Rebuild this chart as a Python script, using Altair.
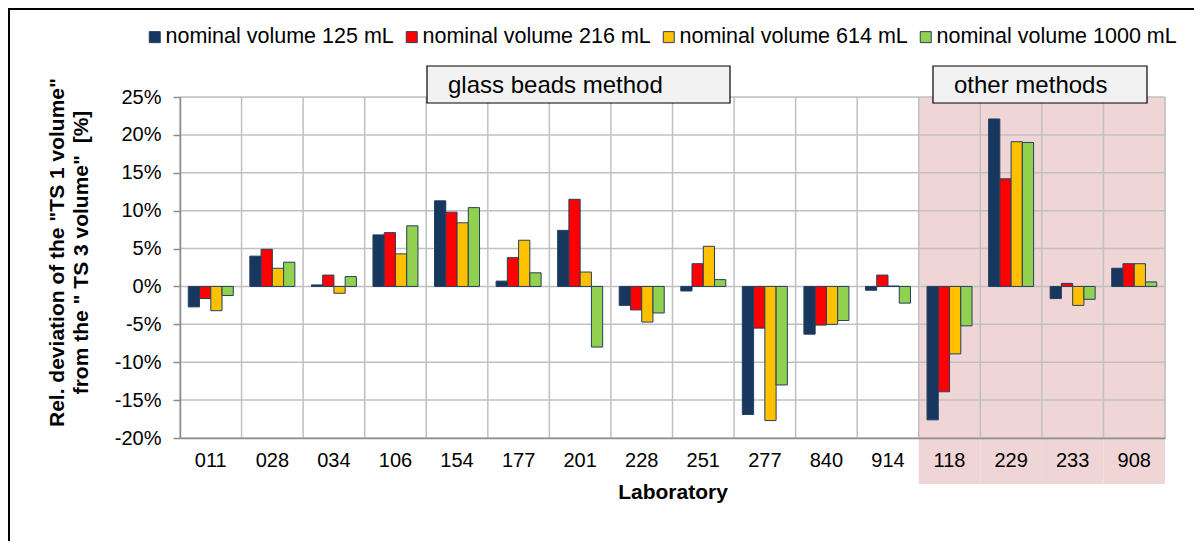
import altair as alt
import pandas as pd

labs = ["011", "028", "034", "106", "154", "177", "201", "228", "251", "277",
        "840", "914", "118", "229", "233", "908"]
other_labs = ["118", "229", "233", "908"]
series = ["nominal volume 125 mL", "nominal volume 216 mL",
          "nominal volume 614 mL", "nominal volume 1000 mL"]
v125 = [-2.7, 4.0, 0.2, 6.8, 11.3, 0.7, 7.4, -2.5, -0.6, -16.9, -6.3, -0.5, -17.6, 22.1, -1.6, 2.4]
v216 = [-1.6, 4.9, 1.5, 7.1, 9.8, 3.8, 11.5, -3.1, 3.0, -5.5, -5.1, 1.5, -13.9, 14.2, 0.4, 3.0]
v614 = [-3.2, 2.4, -0.9, 4.3, 8.4, 6.1, 1.9, -4.7, 5.3, -17.7, -5.0, 0.05, -8.9, 19.1, -2.5, 3.0]
v1000 = [-1.2, 3.2, 1.3, 8.0, 10.4, 1.8, -8.0, -3.5, 0.9, -13.0, -4.5, -2.2, -5.2, 19.0, -1.7, 0.6]
y_ticks = [-20, -15, -10, -5, 0, 5, 10, 15, 20, 25]
colors = ["#17375E", "#FF0000", "#FFC000", "#92D050"]

rows = []
for s, vals in zip(series, [v125, v216, v614, v1000]):
    for lab, v in zip(labs, vals):
        rows.append({"lab": lab, "series": s, "value": v})
df = pd.DataFrame(rows)
df_labs = pd.DataFrame({"lab": labs})
df_other = pd.DataFrame({"lab": other_labs})
df_end = pd.DataFrame({"lab": [labs[-1]]})
df_ticks = pd.DataFrame({"t": y_ticks})

W, H = 985, 341
FONT = "Liberation Sans"
GRID = "#C0C0C0"

xscale = alt.Scale(domain=labs, paddingInner=0, paddingOuter=0)
yscale = alt.Scale(domain=[-20, 25], nice=False)

x_axis = alt.Axis(title="Laboratory", labelAngle=0, ticks=False, tickSize=0,
                  grid=False, domainColor="#8C8C8C", domainWidth=1.5,
                  labelFont=FONT, labelFontSize=20, labelColor="black",
                  labelPadding=12, titleFont=FONT, titleFontSize=21,
                  titleFontWeight="bold", titleColor="black",
                  titleBaseline="alphabetic", titleY=60, zindex=1)
y_axis = alt.Axis(values=y_ticks, grid=False, labelExpr="datum.value + '%'",
                  domainColor="#8C8C8C", domainWidth=1.5, tickColor="#8C8C8C",
                  tickWidth=1.5, tickSize=7, labelPadding=12,
                  labelFont=FONT, labelFontSize=20, labelColor="black",
                  title=["Rel. deviation of the \"TS 1 volume\"",
                         "from the \" TS 3 volume\"\u00a0\u00a0[%]"],
                  titleFont=FONT, titleFontSize=21, titleFontWeight="bold",
                  titleColor="black", titleLineHeight=24, titleAngle=270,
                  titleAlign="center", titleBaseline="middle",
                  titleX=-123, titleY=155, zindex=1)

pink = alt.Chart(df_other).mark_rect(color="#EFD5D5").encode(
    x=alt.X("lab:N", scale=xscale, sort=labs, axis=x_axis),
    y=alt.value(0), y2=alt.value(H + 46))

hgrid = alt.Chart(df_ticks).mark_rule(color=GRID, strokeWidth=1.5).encode(
    y=alt.Y("t:Q", scale=yscale, axis=y_axis),
    x=alt.value(0), x2=alt.value(W))

vgrid = alt.Chart(df_labs).mark_rule(color=GRID, strokeWidth=1.5).encode(
    x=alt.X("lab:N", scale=xscale, sort=labs, bandPosition=0, axis=x_axis),
    y=alt.value(0), y2=alt.value(H))

vend = alt.Chart(df_end).mark_rule(color=GRID, strokeWidth=1.5).encode(
    x=alt.X("lab:N", scale=xscale, sort=labs, bandPosition=1, axis=x_axis),
    y=alt.value(0), y2=alt.value(H))

bars = alt.Chart(df).mark_bar(stroke="#243F60", strokeWidth=1).encode(
    x=alt.X("lab:N", scale=xscale, sort=labs, axis=x_axis),
    xOffset=alt.XOffset("series:N", sort=series,
                        scale=alt.Scale(paddingInner=0, paddingOuter=0.736)),
    y=alt.Y("value:Q", scale=yscale, axis=y_axis),
    color=alt.Color("series:N", sort=series,
                    scale=alt.Scale(domain=series, range=colors),
                    legend=alt.Legend(title=None, orient="none", legendX=-36, legendY=-71,
                                      direction="horizontal", symbolType="square",
                                      symbolSize=121, symbolStrokeWidth=1,
                                      labelFont=FONT, labelFontSize=21.5, labelLimit=0,
                                      labelColor="black", labelOffset=0,
                                      columnPadding=7, padding=0)),
)


def box(x0, x1, y0, y1, text, tx, ty):
    r = alt.Chart(df_end).mark_rect(fill="#F2F2F2", stroke="black", strokeWidth=1.2).encode(
        x=alt.value(x0), x2=alt.value(x1), y=alt.value(y0), y2=alt.value(y1))
    t = alt.Chart(df_end).mark_text(text=text, font=FONT, fontSize=24, align="left",
                                    baseline="alphabetic", color="black").encode(
        x=alt.value(tx), y=alt.value(ty))
    return r + t


box1 = box(427 - 180, 730 - 180, 66 - 97, 103 - 97, "glass beads method", 448 - 180, 93 - 97)
box2 = box(933 - 180, 1147 - 180, 66 - 97, 103 - 97, "other methods", 954 - 180, 93 - 97)

frame_top = alt.Chart(df_end).mark_rule(color="black", strokeWidth=2).encode(
    x=alt.value(-172), x2=alt.value(W + 40), y=alt.value(-88))
frame_left = alt.Chart(df_end).mark_rule(color="black", strokeWidth=2).encode(
    x=alt.value(-171), y=alt.value(-89), y2=alt.value(H + 120))

chart = alt.layer(pink, hgrid, vgrid, vend, bars, box1, box2, frame_top, frame_left).properties(
    width=W, height=H,
    autosize=alt.AutoSizeParams(type="none"),
    padding={"left": 172, "top": 89, "right": 29, "bottom": 103},
).configure_view(stroke=None).configure(background="white")

chart.save("out.html", embed_options={"renderer": "svg", "actions": False})
